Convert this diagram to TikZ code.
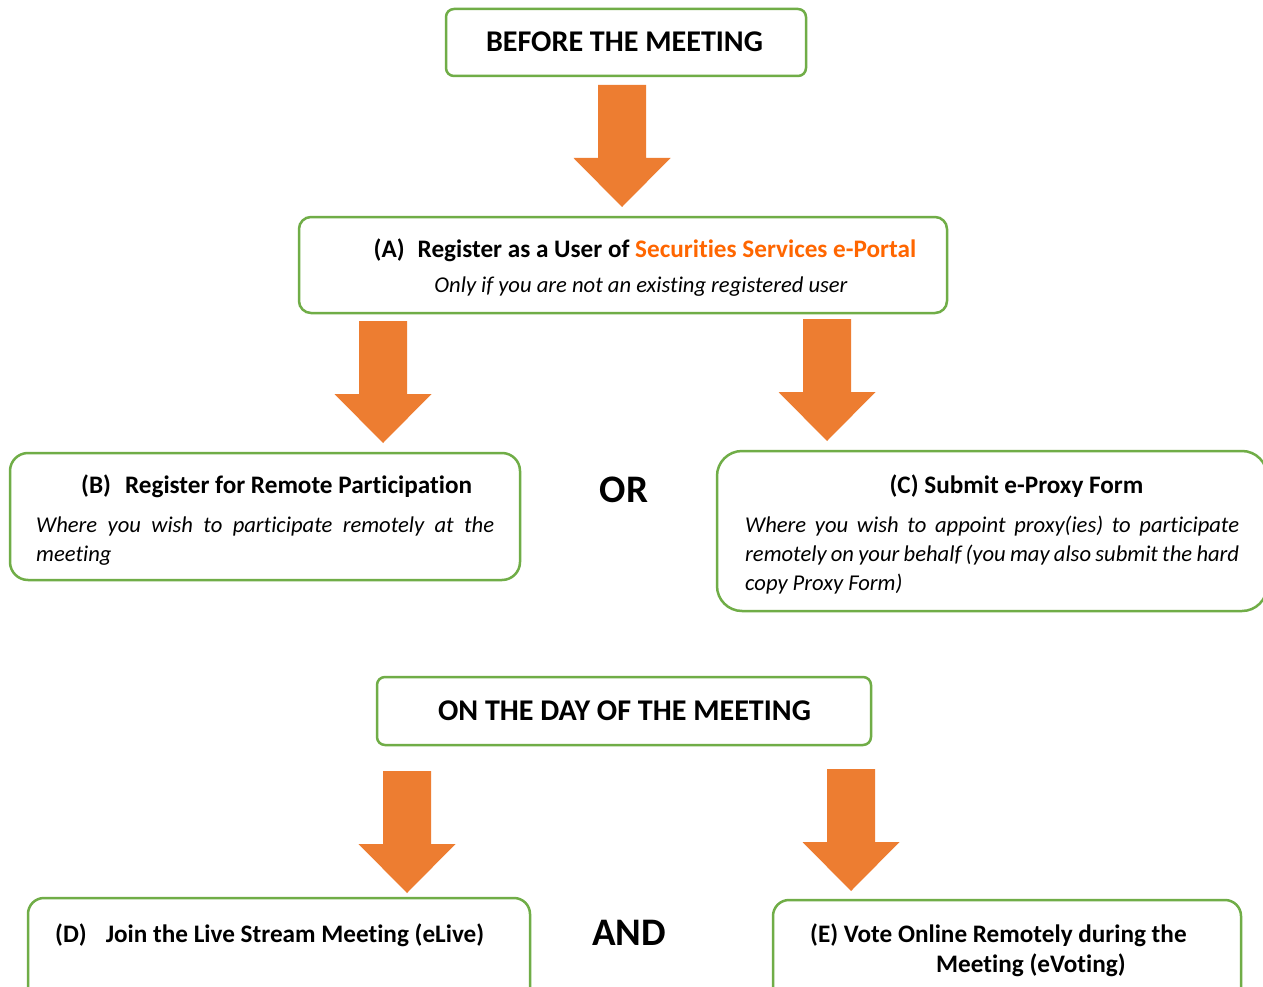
\documentclass[tikz,border=0pt]{standalone}
\usepackage{fontspec}
\setmainfont{Carlito}[Ligatures={NoCommon}]
\definecolor{boxgreen}{HTML}{70AD47}
\definecolor{arroworange}{HTML}{ED7D31}
\definecolor{textorange}{HTML}{FF6600}
\newcommand\fatarrow[2]{%
  \fill[arroworange] (#1-24,#2) -- (#1+24,#2) -- (#1+24,#2+73) -- (#1+48.5,#2+73)
    -- (#1,#2+122) -- (#1-48.5,#2+73) -- (#1-24,#2+73) -- cycle;}
\begin{document}
\begin{tikzpicture}[x=1pt,y=-1pt,
  gbox/.style={draw=boxgreen, line width=2.5pt, inner sep=0pt},
  tt/.style={inner sep=0pt, anchor=base},
  ttw/.style={inner sep=0pt, anchor=base west},
  bigcap/.style={font=\fontsize{30.1}{32}\selectfont\bfseries},
  head/.style={font=\fontsize{25.2}{28}\selectfont\bfseries},
  body/.style={font=\fontsize{22.6}{28}\selectfont\itshape},
  huge/.style={font=\fontsize{39}{40}\selectfont\bfseries}]
\useasboundingbox (0,0) rectangle (1263,987);
\clip (0,0) rectangle (1263,987);
\fill[white] (0,0) rectangle (1263,987);

% boxes
\node[gbox, rounded corners=8, minimum width=360, minimum height=67] (before) at (626,42.5) {};
\node[gbox, rounded corners=12, minimum width=648, minimum height=96] (boxA) at (623,265) {};
\node[gbox, rounded corners=18, minimum width=510, minimum height=127] (boxB) at (265,516.5) {};
\node[gbox, rounded corners=25, minimum width=550, minimum height=160] (boxC) at (992,531) {};
\node[gbox, rounded corners=8, minimum width=494, minimum height=68] (day) at (624,711) {};
\node[gbox, rounded corners=16, minimum width=502, minimum height=130] (boxD) at (279,963) {};
\node[gbox, rounded corners=16, minimum width=468, minimum height=130] (boxE) at (1007,965) {};

% arrows
\fatarrow{622}{85}
\fatarrow{383}{321}
\fatarrow{827}{319}
\fatarrow{407}{771}
\fatarrow{851}{769}

% texts
\node[tt, bigcap] (tbefore) at (624.5,52) {BEFORE THE MEETING};
\node[tt, bigcap] (tday) at (624.5,720) {ON THE DAY OF THE MEETING};

\node[tt, head] (ha) at (645,257) {(A)\hspace{13pt}Register as a User of \textcolor{textorange}{Securities Services e-Portal}};
\node[tt, body] (sa) at (641,292) {Only if you are not an existing registered user};

\node[ttw, head] (hb) at (81,493) {(B)\hspace{14pt}Register for Remote Participation};
\node[ttw, body] (b1) at (36,532) {\makebox[458pt][s]{Where you wish to participate remotely at the}};
\node[ttw, body] (b2) at (36,561) {meeting};

\node[tt, head] (hc) at (1016.5,493) {(C) Submit e-Proxy Form};
\node[ttw, body] (c1) at (745,532) {\makebox[494pt][s]{Where you wish to appoint proxy(ies) to participate}};
\node[ttw, body] (c2) at (745,561) {\makebox[494pt][s]{remotely on your behalf (you may also submit the hard}};
\node[ttw, body] (c3) at (745,590) {copy Proxy Form)};

\node[tt, huge] (tor) at (624,502) {OR};
\node[tt, huge] (tand) at (629,945) {AND};

\node[ttw, head] (hd) at (55,942) {(D)\hspace{19pt}Join the Live Stream Meeting (eLive)};
\node[ttw, head] (he1) at (810,942) {(E) Vote Online Remotely during the};
\node[ttw, head] (he2) at (936,972) {Meeting (eVoting)};
\end{tikzpicture}
\end{document}
